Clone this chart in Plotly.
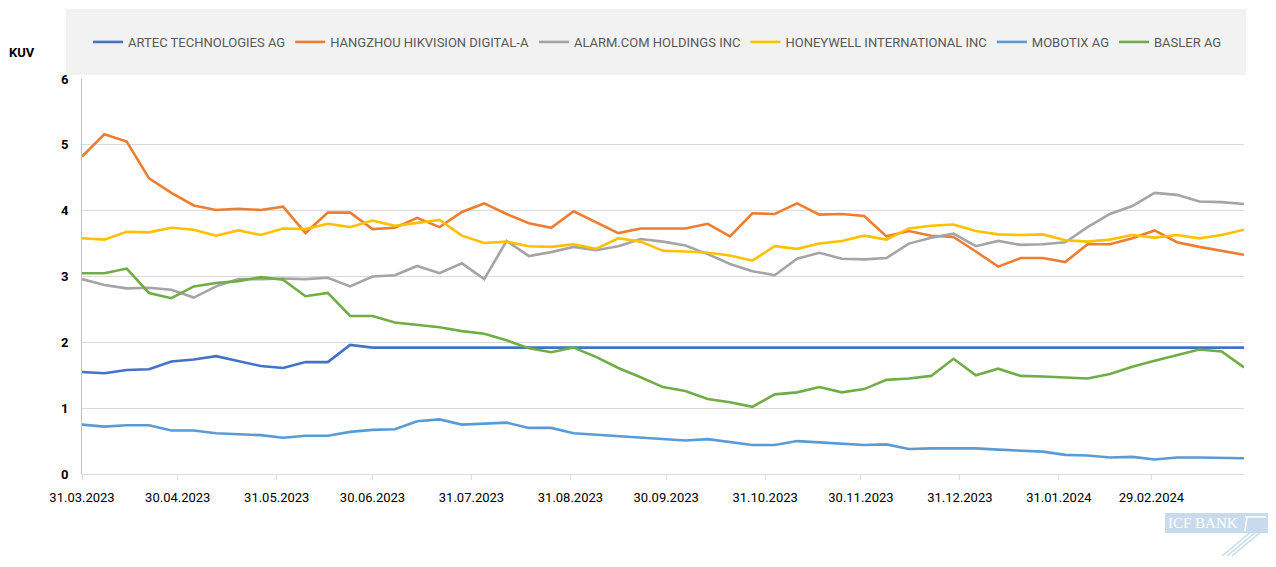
import pandas as pd
import plotly.graph_objects as go

dates = pd.date_range("2023-03-31", periods=53, freq="7D")

artec = [1.55, 1.53, 1.58, 1.59, 1.71, 1.74, 1.79, 1.72, 1.64, 1.61, 1.70, 1.70, 1.96,
         1.92, 1.92, 1.92, 1.92, 1.92, 1.92, 1.92, 1.92, 1.92, 1.92, 1.92, 1.92, 1.92,
         1.92, 1.92, 1.92, 1.92, 1.92, 1.92, 1.92, 1.92, 1.92, 1.92, 1.92, 1.92, 1.92,
         1.92, 1.92, 1.92, 1.92, 1.92, 1.92, 1.92, 1.92, 1.92, 1.92, 1.92, 1.92, 1.92, 1.92]
hikvision = [4.82, 5.16, 5.05, 4.49, 4.27, 4.08, 4.01, 4.03, 4.01, 4.06, 3.66, 3.97, 3.97,
             3.72, 3.74, 3.89, 3.75, 3.98, 4.11, 3.95, 3.81, 3.74, 3.99, 3.82, 3.66, 3.73,
             3.73, 3.73, 3.80, 3.61, 3.96, 3.95, 4.11, 3.94, 3.95, 3.92, 3.61, 3.69, 3.62,
             3.60, 3.38, 3.15, 3.28, 3.28, 3.22, 3.49, 3.49, 3.58, 3.70, 3.52, 3.45, 3.39, 3.33]
alarm = [2.96, 2.87, 2.82, 2.83, 2.80, 2.68, 2.85, 2.96, 2.96, 2.97, 2.96, 2.98, 2.85,
         3.00, 3.02, 3.16, 3.05, 3.20, 2.96, 3.54, 3.31, 3.37, 3.45, 3.40, 3.46, 3.57,
         3.53, 3.47, 3.34, 3.19, 3.08, 3.02, 3.27, 3.36, 3.27, 3.26, 3.28, 3.50, 3.59,
         3.65, 3.46, 3.54, 3.48, 3.49, 3.52, 3.75, 3.95, 4.07, 4.27, 4.24, 4.14, 4.13, 4.10]
honeywell = [3.58, 3.56, 3.68, 3.67, 3.74, 3.71, 3.62, 3.70, 3.63, 3.73, 3.72, 3.80, 3.75,
             3.85, 3.77, 3.82, 3.86, 3.62, 3.51, 3.53, 3.46, 3.45, 3.49, 3.42, 3.58, 3.53,
             3.39, 3.38, 3.36, 3.32, 3.24, 3.46, 3.42, 3.50, 3.54, 3.62, 3.56, 3.73, 3.77,
             3.79, 3.69, 3.64, 3.63, 3.64, 3.55, 3.53, 3.56, 3.63, 3.59, 3.63, 3.58, 3.63, 3.71]
mobotix = [0.75, 0.72, 0.74, 0.74, 0.66, 0.66, 0.62, 0.60, 0.59, 0.55, 0.58, 0.58, 0.64,
           0.67, 0.68, 0.80, 0.83, 0.75, 0.76, 0.78, 0.70, 0.70, 0.62, 0.60, 0.58, 0.56,
           0.53, 0.51, 0.53, 0.48, 0.44, 0.44, 0.50, 0.48, 0.46, 0.44, 0.45, 0.38, 0.39,
           0.39, 0.39, 0.37, 0.36, 0.34, 0.29, 0.28, 0.25, 0.26, 0.22, 0.25, 0.25, 0.25, 0.24]
basler = [3.05, 3.05, 3.12, 2.75, 2.67, 2.85, 2.90, 2.93, 2.99, 2.95, 2.70, 2.75, 2.40,
          2.40, 2.30, 2.27, 2.23, 2.17, 2.13, 2.03, 1.91, 1.85, 1.92, 1.78, 1.61, 1.47,
          1.32, 1.26, 1.14, 1.09, 1.02, 1.21, 1.24, 1.32, 1.24, 1.29, 1.43, 1.45, 1.49,
          1.75, 1.50, 1.60, 1.49, 1.48, 1.47, 1.45, 1.52, 1.63, 1.72, 1.80, 1.89, 1.86, 1.62]

series_names = ["ARTEC TECHNOLOGIES AG", "HANGZHOU HIKVISION DIGITAL-A", "ALARM.COM HOLDINGS INC",
                "HONEYWELL INTERNATIONAL INC", "MOBOTIX AG", "BASLER AG"]
series_values = [artec, hikvision, alarm, honeywell, mobotix, basler]
series_colors = ["#4472C4", "#ED7D31", "#A5A5A5", "#FFC000", "#5B9BD5", "#70AD47"]

tick_dates = ["2023-03-31", "2023-04-30", "2023-05-31", "2023-06-30", "2023-07-31", "2023-08-31",
              "2023-09-30", "2023-10-31", "2023-11-30", "2023-12-31", "2024-01-31", "2024-02-29"]
tick_labels = ["31.03.2023", "30.04.2023", "31.05.2023", "30.06.2023", "31.07.2023", "31.08.2023",
               "30.09.2023", "31.10.2023", "30.11.2023", "31.12.2023", "31.01.2024", "29.02.2024"]

# page has an 8px body margin; work in page pixel coordinates
OFF = 8
W, H = 1276 - 2 * OFF, 567 - 2 * OFF
L, R, T, B = 82, 1244, 79, 474  # plot area in page pixels
FONT = "Roboto, Arial, sans-serif"


def px(x):
    return (x - L) / (R - L)


def py(y):
    return (B - y) / (B - T)


fig = go.Figure()
for name, vals, col in zip(series_names, series_values, series_colors):
    fig.add_trace(go.Scatter(x=dates, y=vals, name=name, mode="lines",
                             line=dict(color=col, width=2.6)))

LOGO = "#C7DBEC"
shapes = [
    # legend background
    dict(type="rect", xref="paper", yref="paper", x0=px(66), x1=px(1246), y0=py(75), y1=py(9),
         fillcolor="#F2F2F2", line=dict(width=0), layer="below"),
    # logo box
    dict(type="rect", xref="paper", yref="paper", x0=px(1165), x1=px(1268), y0=py(533), y1=py(513),
         fillcolor=LOGO, line=dict(width=0)),
]
# logo hook in the box
shapes.append(dict(type="line", xref="paper", yref="paper", x0=px(1245), y0=py(517), x1=px(1266), y1=py(517),
                   line=dict(color="white", width=1.5)))
shapes.append(dict(type="line", xref="paper", yref="paper", x0=px(1247), y0=py(517), x1=px(1245), y1=py(531),
                   line=dict(color="white", width=1.5)))
# logo diagonal lines
for k in range(3):
    d = k * 5
    shapes.append(dict(type="line", xref="paper", yref="paper",
                       x0=px(1262 - d), y0=py(531), x1=px(1232 - d), y1=py(556),
                       line=dict(color=LOGO, width=1.6)))

fig.update_layout(
    width=W, height=H, autosize=False,
    margin=dict(l=L - OFF, r=W - (R - OFF), t=T - OFF, b=H - (B - OFF)),
    paper_bgcolor="white", plot_bgcolor="white",
    font=dict(family=FONT, size=12, color="#000000"),
    showlegend=True,
    legend=dict(orientation="h", x=px(88), y=py(42), xanchor="left", yanchor="middle",
                bgcolor="rgba(0,0,0,0)", font=dict(family=FONT, size=13, color="#595959"),
                itemwidth=30, tracegroupgap=0),
    shapes=shapes,
    annotations=[
        dict(text="<b>KUV</b>", xref="paper", yref="paper", x=px(22), y=py(52),
             xanchor="center", yanchor="middle",
             showarrow=False, font=dict(family=FONT, size=13, color="#000000")),
        dict(text="ICF BANK", xref="paper", yref="paper", x=px(1203), y=py(523),
             xanchor="center", yanchor="middle",
             showarrow=False, font=dict(family="Liberation Serif, DejaVu Serif, serif", size=15, color="white")),
    ],
    xaxis=dict(type="date", range=[dates[0], dates[-1]], tickmode="array",
               tickvals=tick_dates, ticktext=tick_labels, showgrid=False,
               showline=True, linecolor="#D9D9D9", linewidth=1,
               ticks="outside", ticklen=5, tickcolor="#D9D9D9", ticklabelstandoff=6,
               tickfont=dict(family=FONT, size=13, color="#000000")),
    yaxis=dict(range=[0, 6], dtick=1, tick0=0, showgrid=True, gridcolor="#D9D9D9", gridwidth=1,
               showline=True, linecolor="#BFBFBF", linewidth=1, zeroline=False,
               ticks="", ticklabelstandoff=10,
               tickfont=dict(family=FONT, size=13, color="#000000", weight="bold")),
)

fig.write_html("out.html")
